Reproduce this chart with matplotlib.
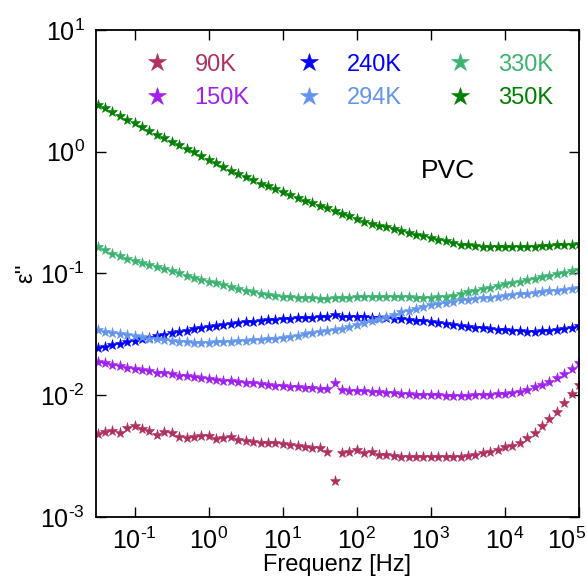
import matplotlib
matplotlib.use("Agg")
import matplotlib.pyplot as plt
import numpy as np
from matplotlib.ticker import FixedLocator, NullLocator, FuncFormatter
from matplotlib.transforms import ScaledTranslation

plt.rcParams['font.family'] = ['Liberation Sans', 'DejaVu Sans']
plt.rcParams['mathtext.fontset'] = 'custom'
plt.rcParams['mathtext.rm'] = 'Liberation Sans'
plt.rcParams['mathtext.it'] = 'Liberation Sans:italic'
plt.rcParams['axes.unicode_minus'] = False

# Measurement frequencies (Hz), 10 points per decade
freq = [0.0316, 0.0398, 0.0501, 0.0631, 0.0794,
        0.1, 0.126, 0.158, 0.2, 0.251, 0.316, 0.398, 0.501, 0.631, 0.794,
        1, 1.26, 1.58, 2, 2.51, 3.16, 3.98, 5.01, 6.31, 7.94,
        10, 12.6, 15.8, 20, 25.1, 31.6, 39.8, 50.1, 63.1, 79.4,
        100, 126, 158, 200, 251, 316, 398, 501, 631, 794,
        1e3, 1.26e3, 1.58e3, 2e3, 2.51e3, 3.16e3, 3.98e3, 5.01e3, 6.31e3, 7.94e3,
        1e4, 1.26e4, 1.58e4, 2e4, 2.51e4, 3.16e4, 3.98e4, 5.01e4, 6.31e4, 7.94e4,
        1e5]

# Dielectric loss eps'' for each temperature
eps_90K = [0.00481, 0.00502, 0.00508, 0.00486, 0.00536,
           0.00558, 0.00525, 0.00508, 0.00471, 0.00497, 0.00486, 0.00457, 0.00448, 0.00457, 0.00466,
           0.00466, 0.00438, 0.00443, 0.00452, 0.00429, 0.00421, 0.00415, 0.00407, 0.00407, 0.00403,
           0.00398, 0.00390, 0.00385, 0.00378, 0.00371, 0.00371, 0.00344, 0.00199, 0.00333, 0.00344,
           0.00355, 0.00333, 0.00344, 0.00323, 0.00323, 0.00317, 0.00313, 0.00313, 0.00309, 0.00309,
           0.00309, 0.00309, 0.00309, 0.00309, 0.00313, 0.00317, 0.00323, 0.00333, 0.00344, 0.00355,
           0.00378, 0.00385, 0.00407, 0.00443, 0.00492, 0.00558, 0.00638, 0.00733, 0.00859, 0.0102,
           0.0121]
eps_150K = [0.0188, 0.0183, 0.0178, 0.0173, 0.0168,
            0.0164, 0.0160, 0.0157, 0.0153, 0.0151, 0.0148, 0.0145, 0.0143, 0.0140, 0.0138,
            0.0136, 0.0134, 0.0132, 0.0130, 0.0128, 0.0126, 0.0125, 0.0123, 0.0121, 0.0120,
            0.0118, 0.0117, 0.0116, 0.0115, 0.0114, 0.0113, 0.0113, 0.0125, 0.0110, 0.0109,
            0.0109, 0.0108, 0.0107, 0.0106, 0.0105, 0.0104, 0.0103, 0.0102, 0.0101, 0.0100,
            0.0100, 0.00995, 0.00993, 0.00991, 0.00991, 0.00993, 0.00998, 0.0100, 0.0101, 0.0102,
            0.0102, 0.0104, 0.0107, 0.0110, 0.0116, 0.0122, 0.0129, 0.0138, 0.0150, 0.0164,
            0.0183]
eps_240K = [0.0244, 0.0251, 0.0258, 0.0265, 0.0272,
            0.0280, 0.0288, 0.0297, 0.0306, 0.0315, 0.0324, 0.0332, 0.0340, 0.0348, 0.0356,
            0.0363, 0.0371, 0.0378, 0.0384, 0.0390, 0.0396, 0.0402, 0.0407, 0.0412, 0.0417,
            0.0421, 0.0425, 0.0428, 0.0431, 0.0433, 0.0435, 0.0436, 0.0452, 0.0437, 0.0437,
            0.0436, 0.0435, 0.0434, 0.0432, 0.0430, 0.0426, 0.0421, 0.0416, 0.0410, 0.0404,
            0.0397, 0.0391, 0.0385, 0.0378, 0.0372, 0.0366, 0.0360, 0.0355, 0.0350, 0.0345,
            0.0341, 0.0337, 0.0334, 0.0333, 0.0333, 0.0334, 0.0337, 0.0343, 0.0351, 0.0360,
            0.0370]
eps_294K = [0.0343, 0.0333, 0.0324, 0.0318, 0.0311,
            0.0305, 0.0299, 0.0292, 0.0287, 0.0283, 0.0279, 0.0274, 0.0272, 0.0270, 0.0270,
            0.0271, 0.0272, 0.0273, 0.0275, 0.0277, 0.0279, 0.0282, 0.0285, 0.0288, 0.0292,
            0.0297, 0.0303, 0.0309, 0.0316, 0.0324, 0.0331, 0.0337, 0.0344, 0.0351, 0.0361,
            0.0376, 0.0394, 0.0406, 0.0419, 0.0437, 0.0459, 0.0479, 0.0495, 0.0513, 0.0535,
            0.0552, 0.0564, 0.0573, 0.0586, 0.0603, 0.0611, 0.0617, 0.0624, 0.0634, 0.0644,
            0.0655, 0.0665, 0.0675, 0.0684, 0.0693, 0.0703, 0.0713, 0.0723, 0.0733, 0.0743,
            0.0755]
eps_330K = [0.166, 0.155, 0.145, 0.138, 0.132,
            0.126, 0.122, 0.117, 0.114, 0.109, 0.104, 0.100, 0.0955, 0.0923, 0.0891,
            0.0859, 0.0832, 0.0804, 0.0776, 0.0750, 0.0724, 0.0700, 0.0684, 0.0668, 0.0653,
            0.0643, 0.0635, 0.0631, 0.0627, 0.0624, 0.0622, 0.0622, 0.0624, 0.0627, 0.0631,
            0.0635, 0.0638, 0.0641, 0.0643, 0.0643, 0.0641, 0.0640, 0.0637, 0.0634, 0.0631,
            0.0631, 0.0635, 0.0644, 0.0658, 0.0676, 0.0698, 0.0721, 0.0745, 0.0767, 0.0791,
            0.0813, 0.0836, 0.0859, 0.0883, 0.0908, 0.0933, 0.0959, 0.0986, 0.101, 0.104,
            0.107]
eps_350K = [2.43, 2.27, 2.11, 1.97, 1.83,
            1.71, 1.59, 1.48, 1.37, 1.29, 1.21, 1.13, 1.06, 0.995, 0.927,
            0.863, 0.804, 0.745, 0.700, 0.658, 0.618, 0.581, 0.548, 0.519, 0.491,
            0.465, 0.440, 0.417, 0.396, 0.377, 0.359, 0.342, 0.326, 0.310, 0.295,
            0.280, 0.265, 0.256, 0.247, 0.239, 0.230, 0.223, 0.216, 0.209, 0.202,
            0.196, 0.190, 0.184, 0.179, 0.173, 0.170, 0.168, 0.166, 0.166, 0.165,
            0.164, 0.164, 0.164, 0.165, 0.166, 0.167, 0.168, 0.170, 0.171, 0.173,
            0.175]

labels = ['90K', '150K', '240K', '294K', '330K', '350K']
series = [eps_90K, eps_150K, eps_240K, eps_294K, eps_330K, eps_350K]
colors = ['#b03060', '#a020f0', '#0000ff', '#6495ed', '#3cb371', '#008000']

xticks = [1e-1, 1e0, 1e1, 1e2, 1e3, 1e4, 1e5]
yticks = [1e-3, 1e-2, 1e-1, 1e0, 1e1]


def pow_label(v, pos):
    e = int(round(np.log10(v)))
    if e < 0:
        return r'$10^{\text{-}%d}$' % (-e)
    return r'$10^{%d}$' % e


fig = plt.figure(figsize=(5.87, 5.87), dpi=100)
ax = fig.add_axes([0.1635, 0.1193, 0.8229, 0.8296])

for lab, vals, col in zip(labels, series, colors):
    ax.plot(freq, vals, linestyle='none', marker='*', markersize=8,
            color=col, markeredgecolor=col, markeredgewidth=0.4, label=lab)

ax.set_xscale('log')
ax.set_yscale('log')
ax.set_xlim(0.03, 1e5)
ax.set_ylim(1e-3, 1e1)

ax.xaxis.set_major_locator(FixedLocator(xticks))
ax.yaxis.set_major_locator(FixedLocator(yticks))
ax.xaxis.set_minor_locator(NullLocator())
ax.yaxis.set_minor_locator(NullLocator())
ax.xaxis.set_major_formatter(FuncFormatter(pow_label))
ax.yaxis.set_major_formatter(FuncFormatter(pow_label))
ax.tick_params(which='major', direction='in', length=7, width=1,
               top=True, right=True, labelsize=18)
ax.tick_params(axis='x', pad=8)
ax.tick_params(axis='y', pad=8)
for sp in ax.spines.values():
    sp.set_linewidth(1.3)

ax.set_xlabel('Frequenz [Hz]', fontsize=17, labelpad=0)
ax.set_ylabel("ε''", fontsize=17, labelpad=2)

ax.text(0.729, 0.71, 'PVC', transform=ax.transAxes, fontsize=19,
        ha='center', va='center')

ax.legend(loc='upper left', bbox_to_anchor=(0.082, 0.971), borderaxespad=0,
          ncol=3, frameon=False, fontsize=17, markerscale=1.7,
          handlelength=1.0, handletextpad=1.1, columnspacing=2.0,
          labelspacing=0.5, labelcolor='linecolor')

# last x label pulled inside the figure, as in the original
last = ax.get_xticklabels()[-1]
last.set_transform(last.get_transform() + ScaledTranslation(-0.12, 0, fig.dpi_scale_trans))

plt.savefig('out.png', dpi=100)
